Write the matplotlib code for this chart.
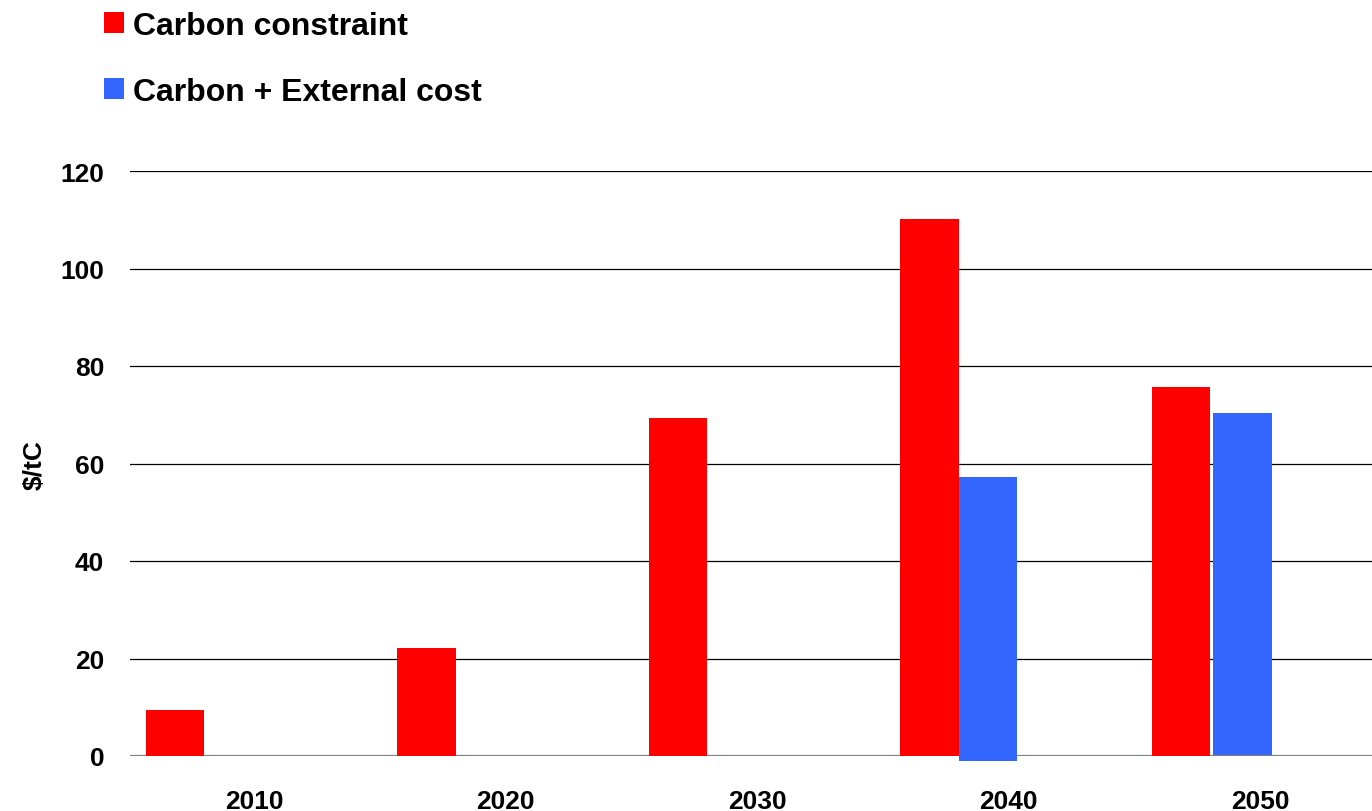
import matplotlib.pyplot as plt
from matplotlib.patches import Patch
import numpy as np

years = ["2010", "2020", "2030", "2040", "2050"]
carbon_constraint = [9.4, 22.2, 69.3, 110.1, 75.6]
carbon_external = [None, None, None, 57.2, 70.3]
external_bottom = [0, 0, 0, -1.0, 0.2]
yticks = [0, 20, 40, 60, 80, 100, 120]

RED = "#FF0000"
BLUE = "#3366FF"

plt.rcParams.update({
    "font.family": ["Liberation Sans", "DejaVu Sans"],
    "font.weight": "bold",
    "font.size": 19,
})

fig = plt.figure(figsize=(13.72, 8.12), dpi=100)
ax = fig.add_axes([130 / 1372, (812 - 757) / 812, 1 - 130 / 1372, (757 - 172) / 812])

x = np.arange(len(years))
red_off, blue_off, width = -0.314, -0.082, 0.232

ax.bar(x + red_off, carbon_constraint, width, color=RED, clip_on=False, zorder=3)
for xi, val, b in zip(x, carbon_external, external_bottom):
    if val is None:
        continue
    # the 2050 blue bar sits a few pixels apart from its red neighbour
    shift = 0.012 if xi == 4 else 0.0
    ax.bar(xi + blue_off + shift, val - b, width, bottom=b, color=BLUE, clip_on=False, zorder=3)

ax.set_xlim(-0.493, 4.445)
ax.set_ylim(0, 120)
ax.set_yticks(yticks)
ax.set_xticks(x)
ax.set_xticklabels(years)
for s in ax.spines.values():
    s.set_visible(False)
ax.tick_params(axis="both", length=0, labelsize=19)
ax.tick_params(axis="y", pad=18.5)
ax.tick_params(axis="x", pad=24)
for t in ax.get_yticklabels() + ax.get_xticklabels():
    t.set_fontweight("bold")

for v in yticks[1:]:
    ax.axhline(v, color="black", linewidth=0.9, zorder=1)
ax.axhline(0, color="#808080", linewidth=1.6, zorder=2)

fig.text(35 / 1372, 1 - 465 / 812, "$/tC", rotation=90, ha="center", va="center",
         fontsize=19, fontweight="bold")

handles = [Patch(facecolor=RED, label="Carbon constraint"),
           Patch(facecolor=BLUE, label="Carbon + External cost")]
fig.legend(handles=handles, loc="upper left", bbox_to_anchor=(104 / 1372, 1 - 12 / 812),
           frameon=False, prop={"weight": "bold", "size": 23}, handlelength=0.62,
           handleheight=0.62, handletextpad=0.3, labelspacing=1.12,
           borderpad=0, borderaxespad=0)

fig.savefig("out.png", dpi=100)
